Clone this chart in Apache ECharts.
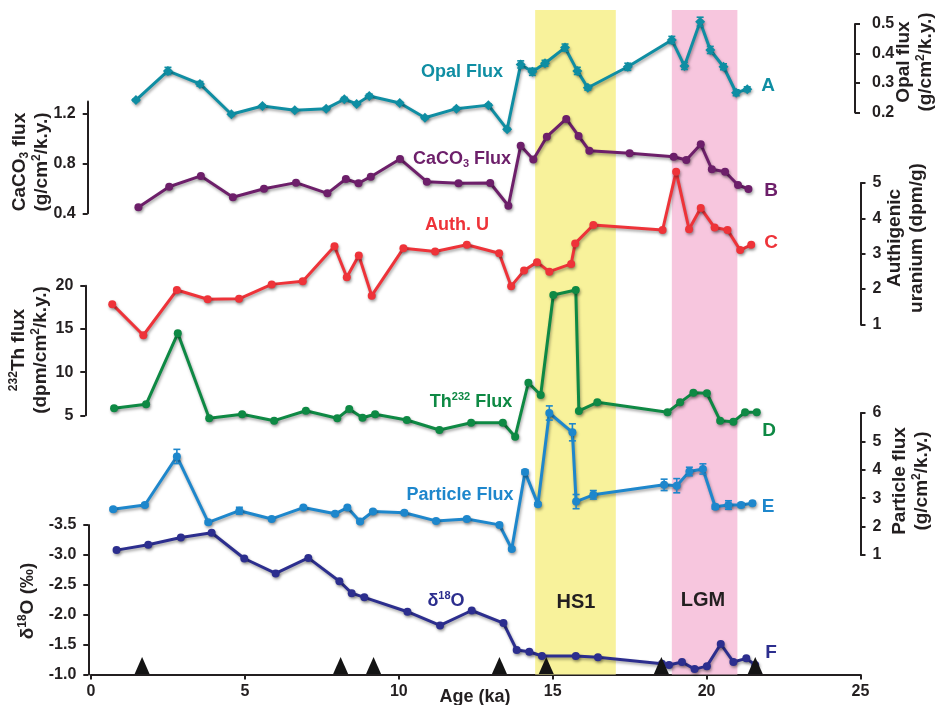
<!DOCTYPE html>
<html><head><meta charset="utf-8">
<script src="https://cdn.jsdelivr.net/npm/echarts@6/dist/echarts.min.js"></script>
<style>html,body{margin:0;padding:0;background:#fff}#c{width:936px;height:705px}</style>
</head><body><div id="c"></div>
<script>
// ---- data (age in ka) ----
const opalAge = [1.46,2.50,3.54,4.56,5.57,6.62,7.64,8.23,8.63,9.04,10.03,10.85,11.87,12.91,13.52,13.96,14.34,14.75,15.40,15.80,16.14,17.44,18.87,19.28,19.79,20.12,20.55,20.96,21.32];
const opalVal = [0.242,0.341,0.297,0.194,0.222,0.208,0.213,0.245,0.229,0.256,0.232,0.182,0.213,0.225,0.143,0.363,0.338,0.367,0.420,0.341,0.284,0.355,0.446,0.358,0.508,0.412,0.355,0.267,0.279];
const opalErr = [0.004,0.012,0.008,0.004,0.004,0.004,0.004,0.006,0.004,0.006,0.004,0.004,0.004,0.004,0.004,0.012,0.012,0.010,0.012,0.012,0.008,0.012,0.012,0.012,0.015,0.012,0.010,0.010,0.008];

const caco3Age = [1.54,2.54,3.57,4.61,5.62,6.66,7.68,8.28,8.69,9.09,10.04,10.91,11.94,12.97,13.56,13.96,14.37,14.81,15.44,15.84,16.19,17.50,18.93,19.34,19.81,20.17,20.60,21.02,21.36];
const caco3Val = [0.448,0.614,0.701,0.529,0.598,0.647,0.561,0.676,0.642,0.695,0.838,0.655,0.642,0.644,0.461,0.945,0.834,1.017,1.160,1.023,0.904,0.883,0.856,0.829,0.956,0.755,0.735,0.628,0.596];

const uAge = [0.69,1.70,2.79,3.79,4.81,5.87,6.88,7.91,8.31,8.70,9.12,10.15,11.18,12.21,13.26,13.65,14.07,14.49,14.89,15.60,15.73,16.32,18.57,19.01,19.43,19.81,20.26,20.68,21.09,21.45];
const uVal = [1.57,0.69,1.97,1.71,1.72,2.13,2.22,3.21,2.33,2.95,1.81,3.15,3.06,3.25,3.01,2.08,2.52,2.76,2.49,2.71,3.29,3.81,3.67,5.32,3.69,4.29,3.74,3.67,3.10,3.25];

const thAge = [0.75,1.79,2.82,3.84,4.91,5.95,6.98,8.00,8.39,8.82,9.23,10.26,11.32,12.35,13.38,13.78,14.21,14.61,15.02,15.75,15.85,16.45,18.73,19.14,19.57,20.01,20.44,20.87,21.25,21.63];
const thVal = [5.81,6.27,14.49,4.65,5.12,4.38,5.53,4.65,5.73,4.72,5.12,4.46,3.30,4.14,4.14,2.52,8.77,7.35,18.92,19.50,5.50,6.50,5.35,6.50,7.62,7.55,4.38,4.26,5.35,5.35];

const partAge = [0.72,1.75,2.79,3.81,4.82,5.87,6.90,7.93,8.33,8.74,9.16,10.18,11.21,12.21,13.27,13.67,14.10,14.52,14.89,15.64,15.76,16.32,18.62,19.03,19.44,19.88,20.28,20.71,21.12,21.49];
const partVal = [2.61,2.76,4.47,2.15,2.56,2.27,2.67,2.45,2.67,2.18,2.53,2.49,2.20,2.27,2.06,1.21,3.92,2.79,6.00,5.32,2.88,3.12,3.47,3.44,3.94,4.03,2.70,2.76,2.76,2.82];
const partErr = [0.05,0.05,0.25,0.05,0.12,0.05,0.05,0.05,0.05,0.05,0.05,0.05,0.05,0.05,0.05,0.05,0.08,0.05,0.25,0.30,0.25,0.15,0.20,0.25,0.15,0.18,0.08,0.15,0.08,0.06];

const d18Age = [0.83,1.86,2.92,3.92,4.98,6.00,7.06,8.07,8.47,8.88,10.28,11.34,12.37,13.40,13.83,14.24,14.65,15.75,16.47,18.55,18.78,19.20,19.61,20.01,20.46,20.87,21.29,21.58];
const d18Val = [-3.08,-3.17,-3.29,-3.37,-2.94,-2.69,-2.95,-2.56,-2.36,-2.29,-2.05,-1.82,-2.07,-1.86,-1.41,-1.38,-1.31,-1.31,-1.29,-1.18,-1.16,-1.21,-1.09,-1.14,-1.51,-1.21,-1.27,-1.16];

const ageControl = [1.66,8.11,9.18,13.27,14.79,18.53,21.58];
const hs1 = [14.43,17.05];
const lgm = [18.87,21.0];
const xTicks = [0,5,10,15,20,25];

// ---- style ----
const FONT = '"Liberation Sans", Arial, Helvetica, sans-serif';
const INK = '#231f20';
const C = {opal:'#0f8ea3', caco3:'#6d1f6a', u:'#ee3339', th:'#0e8944', part:'#1e87cc', d18:'#2c2e8e'};
const L = 91, R = 936 - 860.5;
const grids = [
  {top:10, height:664.5},      // 0 background bands
  {top:24, height:88.5},       // 1 opal
  {top:101.6, height:111.7},   // 2 caco3
  {top:183, height:141.3},     // 3 auth U
  {top:285.7, height:129.6},   // 4 Th
  {top:413, height:142},       // 5 particle
  {top:525, height:149.5}      // 6 d18O
].map(g => Object.assign({left:L, right:R, containLabel:false, outerBoundsMode:'none'}, g));

const lbl = {fontFamily:FONT, fontSize:16, fontWeight:'bold', color:INK};
function yAx(o){
  return Object.assign({
    type:'value', gridIndex:0, splitLine:{show:false},
    axisLine:{show:true, onZero:false, lineStyle:{color:INK, width:2}},
    axisTick:{show:true, inside:false, length:5, lineStyle:{color:INK, width:2}},
    axisLabel:Object.assign({margin:12}, lbl)
  }, o);
}
const yAxes = [
  {type:'value', gridIndex:0, min:0, max:1, show:false},
  yAx({gridIndex:1, position:'right', offset:-5.5, min:0.2, max:0.5, interval:0.1, axisLabel:Object.assign({margin:17, formatter:v=>v.toFixed(1)}, lbl)}),
  yAx({gridIndex:2, position:'left', offset:3.3, min:0.4, max:1.3,
       axisTick:{show:true, length:5, lineStyle:{color:INK, width:2}, customValues:[0.4,0.8,1.2]},
       axisLabel:Object.assign({margin:12, customValues:[0.4,0.8,1.2], formatter:v=>v.toFixed(1)}, lbl)}),
  yAx({gridIndex:3, position:'right', min:1, max:5, interval:1}),
  yAx({gridIndex:4, position:'left', offset:5.7, min:5, max:20, interval:5}),
  yAx({gridIndex:5, position:'right', min:1, max:6, interval:1}),
  yAx({gridIndex:6, position:'left', offset:2.7, min:-3.5, max:-1.0, interval:0.5, inverse:true, axisLabel:Object.assign({margin:12, formatter:v=>v.toFixed(1)}, lbl)})
];
const xAxes = grids.map((g,i) => {
  if (i < 6) return {type:'value', gridIndex:i, min:0, max:25, show:false};
  return {type:'value', gridIndex:i, min:0, max:25, interval:5, position:'bottom',
    splitLine:{show:false},
    axisLine:{show:true, onZero:false, lineStyle:{color:INK, width:2}},
    axisTick:{show:true, length:5, lineStyle:{color:INK, width:2}},
    axisLabel:Object.assign({margin:9, customValues:xTicks}, lbl)};
});

const shadow = {shadowColor:'rgba(0,0,0,0.35)', shadowBlur:3, shadowOffsetX:1, shadowOffsetY:2};
function line(idx, ages, vals, color, symbol, size){
  return {type:'line', xAxisIndex:idx, yAxisIndex:idx, clip:false, z:3,
    data: ages.map((a,i)=>[a, vals[i]]),
    symbol: symbol, symbolSize: size, showSymbol:true,
    lineStyle:Object.assign({color:color, width:3}, shadow),
    itemStyle:Object.assign({color:color}, shadow),
    emphasis:{disabled:true}, animation:false};
}
function errBars(idx, ages, vals, errs, color){
  return {type:'custom', xAxisIndex:idx, yAxisIndex:idx, clip:false, z:4, animation:false,
    data: ages.map((a,i)=>[a, vals[i], errs[i]]),
    encode:{x:0, y:1},
    renderItem:(params, api)=>{
      const x = api.value(0), y = api.value(1), e = api.value(2);
      const p1 = api.coord([x, y+e]), p2 = api.coord([x, y-e]);
      const w = 3.5, st = {stroke:color, lineWidth:1.6};
      return {type:'group', children:[
        {type:'line', shape:{x1:p1[0], y1:p1[1], x2:p2[0], y2:p2[1]}, style:st},
        {type:'line', shape:{x1:p1[0]-w, y1:p1[1], x2:p1[0]+w, y2:p1[1]}, style:st},
        {type:'line', shape:{x1:p2[0]-w, y1:p2[1], x2:p2[0]+w, y2:p2[1]}, style:st}
      ]};
    }};
}

const series = [
  {type:'line', xAxisIndex:0, yAxisIndex:0, data:[[0,0.5]], symbol:'none', lineStyle:{width:0, opacity:0}, z:1, silent:true, animation:false,
   markArea:{silent:true, label:{show:false}, data:[
     [{xAxis:hs1[0], yAxis:0, itemStyle:{color:'#f8f29b'}}, {xAxis:hs1[1], yAxis:1}],
     [{xAxis:lgm[0], yAxis:0, itemStyle:{color:'#f7c6de'}}, {xAxis:lgm[1], yAxis:1}]
   ]}},
  errBars(1, opalAge, opalVal, opalErr, C.opal),
  line(1, opalAge, opalVal, C.opal, 'diamond', 10),
  line(2, caco3Age, caco3Val, C.caco3, 'circle', 8),
  line(3, uAge, uVal, C.u, 'circle', 8),
  line(4, thAge, thVal, C.th, 'circle', 8),
  errBars(5, partAge, partVal, partErr, C.part),
  line(5, partAge, partVal, C.part, 'circle', 8),
  line(6, d18Age, d18Val, C.d18, 'circle', 8),
  {type:'scatter', xAxisIndex:6, yAxisIndex:6, z:6, animation:false,
   data: ageControl.map(a=>[a, -1.0]), symbol:'triangle', symbolSize:[15,17], symbolOffset:[0,-9],
   itemStyle:{color:'#141414', opacity:1}, emphasis:{disabled:true}}
];

// ---- texts ----
const rich = (size) => ({
  n:{fontFamily:FONT, fontSize:size, fontWeight:'bold', fill:INK, color:INK, lineHeight:size+3},
  sup:{fontFamily:FONT, fontSize:Math.round(size*0.62), fontWeight:'bold', fill:INK, color:INK, verticalAlign:'top', lineHeight:size+3},
  sub:{fontFamily:FONT, fontSize:Math.round(size*0.62), fontWeight:'bold', fill:INK, color:INK, verticalAlign:'bottom', lineHeight:size+3}
});
function colored(size, color){
  const r = rich(size);
  Object.keys(r).forEach(k=>{ r[k].fill = color; r[k].color = color; });
  return r;
}
function vText(x, y, text, size){
  return {type:'text', x:x, y:y, rotation:Math.PI/2, z:10,
    style:{text:text, rich:rich(size), align:'center', verticalAlign:'middle', fill:INK}};
}
function hText(x, y, text, size, color){
  return {type:'text', x:x, y:y, z:10,
    style:{text:text, rich:colored(size, color), align:'center', verticalAlign:'middle', fill:color}};
}
const graphic = [
  vText(31, 162, '{n|CaCO}{sub|3}{n| flux}\n{n|(g/cm}{sup|2}{n|/k.y.)}', 19),
  vText(30, 350, '{sup|232}{n|Th flux}\n{n|(dpm/cm}{sup|2}{n|/k.y.)}', 19),
  vText(28, 601, '{n|δ}{sup|18}{n|O (‰)}', 19),
  vText(915, 62, '{n|Opal flux}\n{n|(g/cm}{sup|2}{n|/k.y.)}', 19),
  vText(906, 238, '{n|Authigenic}\n{n|uranium (dpm/g)}', 19),
  vText(911, 481, '{n|Particle flux}\n{n|(g/cm}{sup|2}{n|/k.y.)}', 19),
  hText(475, 697, '{n|Age (ka)}', 18, INK),
  hText(462, 72, '{n|Opal Flux}', 18, C.opal),
  hText(462, 159, '{n|CaCO}{sub|3}{n| Flux}', 18, C.caco3),
  hText(457, 225, '{n|Auth. U}', 18, C.u),
  hText(471, 402, '{n|Th}{sup|232}{n| Flux}', 18, C.th),
  hText(460, 495, '{n|Particle Flux}', 18, C.part),
  hText(446, 601, '{n|δ}{sup|18}{n|O}', 18, C.d18),
  hText(576, 602, '{n|HS1}', 20, INK),
  hText(703, 600, '{n|LGM}', 20, INK),
  hText(768, 86, '{n|A}', 19, C.opal),
  hText(771, 191, '{n|B}', 19, C.caco3),
  hText(771, 243, '{n|C}', 19, C.u),
  hText(769, 431, '{n|D}', 19, C.th),
  hText(768, 507, '{n|E}', 19, C.part),
  hText(771, 653, '{n|F}', 19, C.d18)
];

const chart = echarts.init(document.getElementById('c'), null, {renderer:'canvas'});
chart.setOption({
  animation:false, backgroundColor:'#ffffff',
  grid:grids, xAxis:xAxes, yAxis:yAxes, series:series, graphic:graphic
});
</script>
</body></html>
